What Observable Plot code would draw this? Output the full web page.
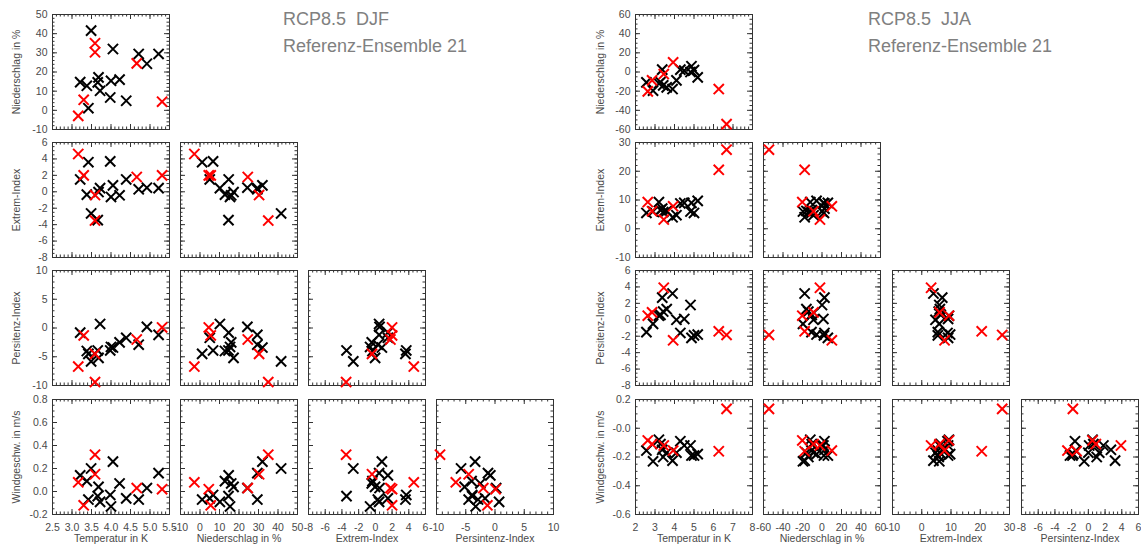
<!DOCTYPE html>
<html>
<head>
<meta charset="utf-8">
<script src="https://cdn.jsdelivr.net/npm/d3@7"></script>
<script src="https://cdn.jsdelivr.net/npm/@observablehq/plot@0.6"></script>
<style>
  body { margin: 0; background: #fff; }
  #chart { position: relative; width: 1141px; height: 544px; overflow: hidden;
           font-family: "Liberation Sans", Arial, sans-serif; }
  #chart svg { position: absolute; }
  .title { position: absolute; color: #808080; font-size: 18px; line-height: 1; white-space: pre; }
</style>
</head>
<body>
<div id="chart"></div>
<script>
// ---- ensemble members (15 reference members in black, 6 highlighted in red) ----
const djfHighlight = [0,0,0,0,0,0,0,0,0,0,0,0,0,0,0, 1,1,1,1,1,1];
const djfTemp    = [3.21,3.38,3.42,3.49,3.66,3.68,3.72,3.98,4.00,4.05,4.22,4.39,4.71,4.92,5.22, 3.16,3.30,3.59,3.59,4.66,5.31];
const djfNieder  = [14.7,12.8,1.1,41.6,14.6,17.2,10.2,6.7,15.4,32.0,16.0,5.0,29.4,24.3,29.4, -2.9,5.5,35.0,30.3,24.5,4.5];
const djfExtrem  = [1.5,-0.35,3.6,-2.64,-3.45,-0.03,0.45,3.7,-0.63,0.78,-0.43,1.5,0.3,0.5,0.45, 4.6,2.0,-3.5,-0.4,1.8,2.0];
const djfPersist = [-0.8,-4.0,-4.5,-5.8,-3.9,-5.2,0.7,-3.9,-3.3,-3.4,-2.5,-1.7,-2.9,0.2,-1.2, -6.7,-1.3,-9.4,-4.5,-2.0,0.1];
const djfWind    = [0.14,0.09,-0.07,0.20,-0.04,0.04,-0.09,-0.03,-0.13,0.26,0.07,-0.06,-0.07,0.03,0.16, 0.08,-0.12,0.32,0.15,0.03,0.02];

const jjaHighlight = [0,0,0,0,0,0,0,0,0,0,0,0,0,0,0, 1,1,1,1,1,1];
const jjaTemp    = [2.56,2.90,3.20,3.28,3.37,3.42,3.60,3.90,4.10,4.30,4.50,4.82,4.87,5.00,5.19, 2.63,2.85,3.45,3.93,6.27,6.67];
const jjaNieder  = [-10.8,-19.5,-12,-10.5,2.5,-14,-16,-17.8,-8.7,2.5,1.4,0,6,2,-5.6, -20.2,-8.7,-2.1,10.1,-17.8,-54.4];
const jjaExtrem  = [5.5,6.0,9.3,6.5,7.0,5.8,6.2,4.0,4.7,8.8,9.0,6.0,9.0,5.5,9.7, 9.3,6.1,3.2,7.8,20.5,27.5];
const jjaPersist = [-1.5,-0.5,0.5,0.6,2.7,1.0,1.3,3.2,0.0,-1.6,0.1,1.8,-2.2,-1.9,-1.8, 0.5,0.9,3.9,-2.5,-1.4,-1.85];
const jjaWind    = [-0.155,-0.23,-0.08,-0.11,-0.15,-0.20,-0.17,-0.225,-0.17,-0.09,-0.12,-0.12,-0.19,-0.19,-0.18, -0.085,-0.11,-0.12,-0.155,-0.16,0.135];

// ---- axis titles ----
const xTitles = ["Temperatur in K", "Niederschlag in %", "Extrem-Index", "Persintenz-Index"];
const yTitles = ["Niederschlag in %", "Extrem-Index", "Persitenz-Index", "Windgeschw. in m/s"];

// ---- axes: domain, major ticks with their labels, minor tick step ----
const djfAxes = [
  {domain: [2.5, 5.5], ticks: [2.5,3,3.5,4,4.5,5,5.5], labels: ["2.5","3.0","3.5","4.0","4.5","5.0","5.5"], minor: 0.1},
  {domain: [-10, 50], ticks: [-10,0,10,20,30,40,50], labels: ["-10","0","10","20","30","40","50"], minor: 2},
  {domain: [-8, 6], ticks: [-8,-6,-4,-2,0,2,4,6], labels: ["-8","-6","-4","-2","0","2","4","6"], minor: 0.5},
  {domain: [-10, 10], ticks: [-10,-5,0,5,10], labels: ["-10","-5","0","5","10"], minor: 1},
  {domain: [-0.2, 0.8], ticks: [-0.2,0,0.2,0.4,0.6,0.8], labels: ["-0.2","0.0","0.2","0.4","0.6","0.8"], minor: 0.05}
];
const jjaAxes = [
  {domain: [2, 8], ticks: [2,3,4,5,6,7,8], labels: ["2","3","4","5","6","7","8"], minor: 0.2},
  {domain: [-60, 60], ticks: [-60,-40,-20,0,20,40,60], labels: ["-60","-40","-20","0","20","40","60"], minor: 5},
  {domain: [-10, 30], ticks: [-10,0,10,20,30], labels: ["-10","0","10","20","30"], minor: 2},
  {domain: [-8, 6], ticks: [-8,-6,-4,-2,0,2,4,6], labels: ["-8","-6","-4","-2","0","2","4","6"], minor: 0.5},
  {domain: [-0.6, 0.2], ticks: [-0.6,-0.4,-0.2,0,0.2], labels: ["-0.6","-0.4","-0.2","-0.0","0.2"], minor: 0.05}
];

const seasons = [
  {title: "RCP8.5  DJF", sub: "Referenz-Ensemble 21", titleX: 283,
   vars: [djfTemp, djfNieder, djfExtrem, djfPersist, djfWind], hot: djfHighlight, axes: djfAxes,
   colX: [52, 179.5, 308, 436], yTitleX: 16},
  {title: "RCP8.5  JJA", sub: "Referenz-Ensemble 21", titleX: 868,
   vars: [jjaTemp, jjaNieder, jjaExtrem, jjaPersist, jjaWind], hot: jjaHighlight, axes: jjaAxes,
   colX: [635, 763, 892, 1020.5], yTitleX: 600}
];
const rowY = [13.5, 142, 270, 398.5];

// ---- panel geometry ----
const PW = 117, PH = 115;
const M = {left: 52, right: 16, top: 8, bottom: 44};
const frameColor = "#333";
const textColor = "#4a4a4a";

function minorTicks(ax) {
  const n = Math.round((ax.domain[1] - ax.domain[0]) / ax.minor);
  return d3.range(n + 1).map(i => ax.domain[0] + i * ax.minor);
}

function panel(host, left, top, xa, ya, xs, ys, hot, xTitle, yTitle, yTitleDx) {
  const pts = xs.map((x, i) => ({x, y: ys[i], hot: hot[i]}))
                .sort((a, b) => a.hot - b.hot);
  const marks = [];
  // inward ticks on all four sides (minor short, major long)
  for (const [vals, len] of [[minorTicks(xa), 2.5], [xa.ticks, 5]]) {
    marks.push(Plot.tickX(vals, {x: d => d, insetTop: PH - len, stroke: frameColor}));
    marks.push(Plot.tickX(vals, {x: d => d, insetBottom: PH - len, stroke: frameColor}));
  }
  for (const [vals, len] of [[minorTicks(ya), 2.5], [ya.ticks, 5]]) {
    marks.push(Plot.tickY(vals, {y: d => d, insetRight: PW - len, stroke: frameColor}));
    marks.push(Plot.tickY(vals, {y: d => d, insetLeft: PW - len, stroke: frameColor}));
  }
  marks.push(Plot.frame({stroke: frameColor, strokeWidth: 1}));
  marks.push(Plot.dot(pts, {
    x: "x", y: "y", symbol: "times", r: 4.7, strokeWidth: 2,
    stroke: d => d.hot ? "#ff0000" : "#000000"
  }));
  if (xTitle) {
    marks.push(Plot.axisX({anchor: "bottom", ticks: xa.ticks, tickSize: 0, tickPadding: 9,
      tickFormat: d => xa.labels[xa.ticks.indexOf(d)], label: null, fontSize: 10.5}));
    marks.push(Plot.text([xTitle], {text: d => d, frameAnchor: "bottom", dy: 24,
      textAnchor: "middle", lineAnchor: "middle", fontSize: 10.5, fill: textColor}));
  }
  if (yTitle) {
    marks.push(Plot.axisY({anchor: "left", ticks: ya.ticks, tickSize: 0, tickPadding: 5,
      tickFormat: d => ya.labels[ya.ticks.indexOf(d)], label: null, fontSize: 10.5}));
    marks.push(Plot.text([yTitle], {text: d => d, frameAnchor: "left", dx: yTitleDx, rotate: -90,
      textAnchor: "middle", lineAnchor: "middle", fontSize: 10.5, fill: textColor}));
  }
  const svg = Plot.plot({
    width: PW + M.left + M.right,
    height: PH + M.top + M.bottom,
    marginLeft: M.left, marginRight: M.right, marginTop: M.top, marginBottom: M.bottom,
    x: {domain: xa.domain, axis: null},
    y: {domain: ya.domain, axis: null},
    style: {background: "transparent", color: textColor, overflow: "visible",
            fontFamily: "'Liberation Sans', Arial, sans-serif"},
    marks
  });
  svg.style.left = (left - M.left) + "px";
  svg.style.top = (top - M.top) + "px";
  host.appendChild(svg);
}

const host = document.getElementById("chart");
for (const s of seasons) {
  for (let r = 0; r < 4; r++) {
    for (let c = 0; c <= r; c++) {
      panel(host, s.colX[c], rowY[r], s.axes[c], s.axes[r + 1], s.vars[c], s.vars[r + 1], s.hot,
            r === 3 ? xTitles[c] : null, c === 0 ? yTitles[r] : null, s.yTitleX - s.colX[0]);
    }
  }
  for (const [txt, y] of [[s.title, 10], [s.sub, 37]]) {
    const d = document.createElement("div");
    d.className = "title";
    d.textContent = txt;
    d.style.left = s.titleX + "px";
    d.style.top = y + "px";
    host.appendChild(d);
  }
}
</script>
</body>
</html>
